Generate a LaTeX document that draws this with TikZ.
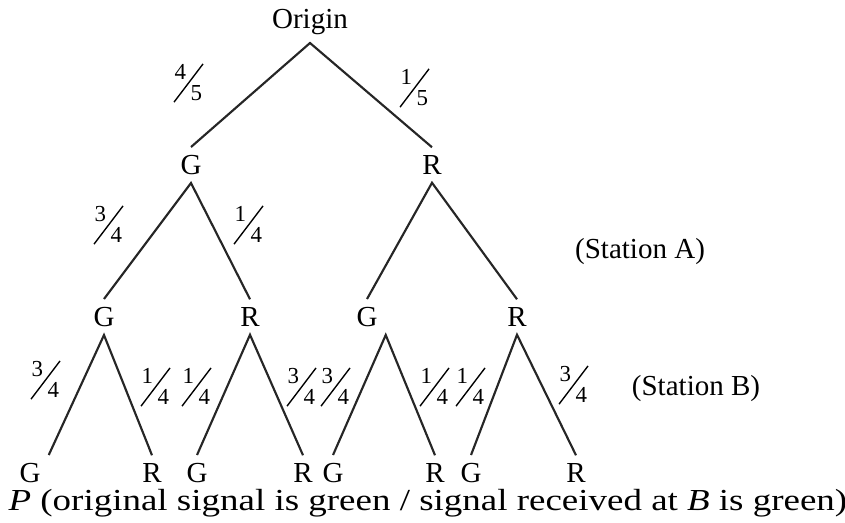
\documentclass[tikz,border=0pt]{standalone}
\usepackage{fontspec}
\setmainfont{Liberation Serif}
\usepackage{tikz}
\usetikzlibrary{positioning}
\newcommand{\fs}{\fontsize{7.5}{8}\selectfont}
\newcommand{\fr}[2]{\makebox[9.5pt][l]{%
	\makebox[0pt][l]{\rotatebox{52.8}{\rule{15.7pt}{.45pt}}}%
	\makebox[0pt][l]{\hspace{.4pt}\raisebox{7.4pt}{\fs #1}}%
	\hspace{5.6pt}\raisebox{.6pt}{\fs #2}}}

\begin{document}
\begin{tikzpicture}[x=0.0115cm,y=-0.0115cm,
			st/.style={inner sep=2.5pt,font=\fontsize{9.5}{11}\selectfont},
			lab/.style={inner sep=0pt,font=\fontsize{10}{12}\selectfont},
			br/.style={line width=0.7pt,black!85}
			]
			\useasboundingbox (0,0) rectangle (845,522);
			% tree nodes
			\node[st] (o) at (310,22) {Origin};
			\node[st] (g) at (191,165) {G};
			\node[st] (r) at (432,165) {R};
			\node[st] (gg) at (104,317) {G};
			\node[st] (gr) at (250,317) {R};
			\node[st] (rg) at (367,317) {G};
			\node[st] (rr) at (517,317) {R};
			\node[st] (ggg) at (30,473) {G};
			\node[st] (ggr) at (152,473) {R};
			\node[st] (grg) at (197,473) {G};
			\node[st] (grr) at (303,473) {R};
			\node[st] (rgg) at (333,473) {G};
			\node[st] (rgr) at (435,473) {R};
			\node[st] (rrg) at (471,473) {G};
			\node[st] (rrr) at (576,473) {R};
			% branches
			\draw[br] (g.north)--(o.south)--(r.north);
			\draw[br] (gg.north)--(g.south)--(gr.north);
			\draw[br] (rg.north)--(r.south)--(rr.north);
			\draw[br] (ggg.north east)--(gg.south)--(ggr.north);
			\draw[br] (grg.north)--(gr.south)--(grr.north);
			\draw[br] (rgg.north)--(rg.south east)--(rgr.north);
			\draw[br] (rrg.north)--(rr.south)--(rrr.north);
			% probabilities
			\node[lab] (p1) at (188,83) {\fr{4}{5}};
			\node[lab] (p2) at (414,88) {\fr{1}{5}};
			\node[lab] (p3) at (108,225) {\fr{3}{4}};
			\node[lab] (p4) at (248,225) {\fr{1}{4}};
			\node[lab] (p5) at (45,380) {\fr{3}{4}};
			\node[lab] (p6) at (155,387) {\fr{1}{4}};
			\node[lab] (p7) at (196,387) {\fr{1}{4}};
			\node[lab] (p8) at (301,387) {\fr{3}{4}};
			\node[lab] (p9) at (335,387) {\fr{3}{4}};
			\node[lab] (p10) at (434,387) {\fr{1}{4}};
			\node[lab] (p11) at (470,387) {\fr{1}{4}};
			\node[lab] (p12) at (573,385) {\fr{3}{4}};
			% stations
			\node[st] (sa) at (640,252) {(Station A)};
			\node[st] (sb) at (696,388) {(Station B)};
			\node[lab,anchor=base west] (cap) at (8,510) {\scalebox{1.21}[1]{\textit{P} (original signal is green / signal received at \textit{B} is green)}};
		\end{tikzpicture}
\end{document}
